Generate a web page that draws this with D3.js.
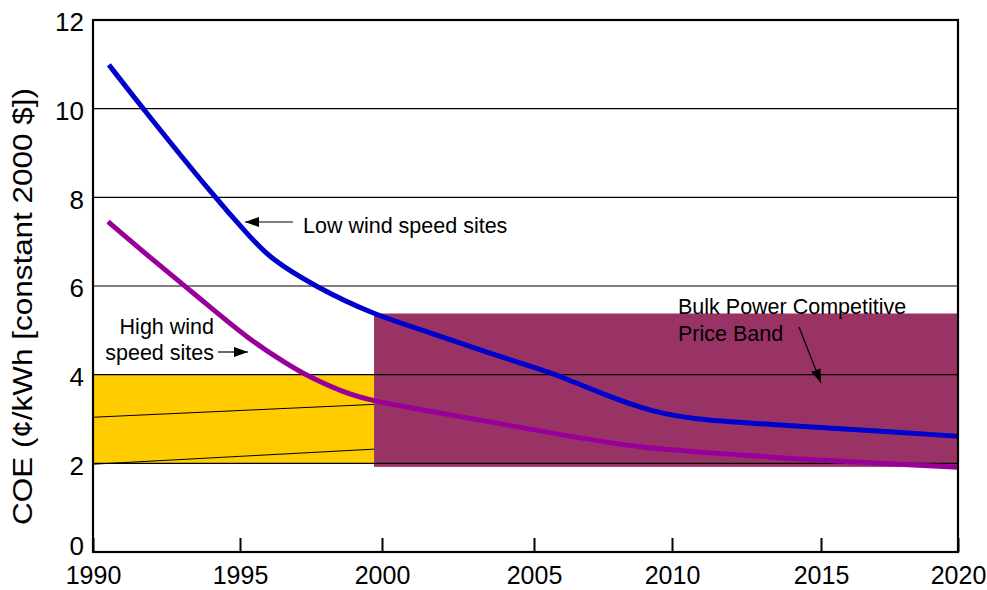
<!DOCTYPE html>
<html>
<head>
<meta charset="utf-8">
<script src="https://cdn.jsdelivr.net/npm/d3@7"></script>
<style>
  html, body { margin: 0; padding: 0; background: #fff; }
  svg { display: block; font-family: "Liberation Sans", Arial, sans-serif; }
</style>
</head>
<body>
<svg id="chart" width="987" height="590"></svg>
<script>
// ---- Data ----
const xTickYears = [1990, 1995, 2000, 2005, 2010, 2015, 2020];
const yTickValues = [0, 2, 4, 6, 8, 10, 12];
const gridValues = [2, 4, 6, 8, 10];

const lowWindYears = [1990.54, 1991.70, 1994.15, 1995.35, 1996.06, 1997.64, 1999.68, 2001.58, 2003.45, 2005.33, 2006.05, 2007.5, 2009.31, 2010.94, 2014.3, 2017.88, 2020];
const lowWindCOE   = [10.99, 10.0, 7.99, 7.11, 6.62, 5.99, 5.36, 4.95, 4.50, 4.10, 3.94, 3.56, 3.15, 2.97, 2.84, 2.70, 2.61];

const highWindYears = [1990.51, 1991.94, 1993.64, 1995.25, 1996.76, 1997.36, 1998.63, 1999.72, 2001.25, 2003.98, 2006.30, 2008.73, 2010.94, 2014.3, 2017.88, 2020];
const highWindCOE   = [7.45, 6.64, 5.72, 4.82, 4.20, 3.98, 3.60, 3.40, 3.22, 2.88, 2.61, 2.36, 2.25, 2.09, 1.98, 1.91];

// Price bands: [startYear, endYear, low, high]
const highWindBand = [1990, 1999.72, 2, 4];
const bulkPowerBand = [1999.72, 2020, 1.92, 5.38];
// thin lines inside the high wind band: [y at start, y at end]
const bandInnerLines = [[3.04, 3.33], [1.98, 2.32]];

// ---- Scales ----
const svg = d3.select("#chart");
const x = d3.scaleLinear().domain(xTickYears).range([93, 240, 382, 534, 672, 821, 958]);
const y = d3.scaleLinear().domain([0, 12]).range([552, 20]);
const X0 = x(1990), X1 = x(2020), Y0 = y(0), Y1 = y(12);

// defs for arrowheads
const defs = svg.append("defs");
defs.append("marker")
  .attr("id", "arrow")
  .attr("markerUnits", "userSpaceOnUse")
  .attr("viewBox", "0 0 14 10")
  .attr("refX", 14).attr("refY", 5)
  .attr("markerWidth", 14).attr("markerHeight", 10)
  .attr("orient", "auto")
  .append("path").attr("d", "M0,0 L14,5 L0,10 Z").attr("fill", "#000");

// ---- Bands ----
svg.append("rect")
  .attr("x", x(highWindBand[0])).attr("y", y(highWindBand[3]))
  .attr("width", x(highWindBand[1]) - x(highWindBand[0]))
  .attr("height", y(highWindBand[2]) - y(highWindBand[3]))
  .attr("fill", "#FFCC00");

svg.selectAll("line.inner").data(bandInnerLines).enter().append("line")
  .attr("x1", x(highWindBand[0])).attr("x2", x(highWindBand[1]))
  .attr("y1", d => y(d[0])).attr("y2", d => y(d[1]))
  .attr("stroke", "#000").attr("stroke-width", 1);

svg.append("rect")
  .attr("x", x(bulkPowerBand[0])).attr("y", y(bulkPowerBand[3]))
  .attr("width", x(bulkPowerBand[1]) - x(bulkPowerBand[0]))
  .attr("height", y(bulkPowerBand[2]) - y(bulkPowerBand[3]))
  .attr("fill", "#993366");

// ---- Gridlines ----
svg.selectAll("line.grid").data(gridValues).enter().append("line")
  .attr("x1", X0).attr("x2", X1)
  .attr("y1", d => y(d)).attr("y2", d => y(d))
  .attr("stroke", "#000").attr("stroke-width", 1.2);

// ---- Curves ----
const line = d3.line().x(d => x(d[0])).y(d => y(d[1])).curve(d3.curveBasis);
svg.append("path")
  .attr("d", line(highWindYears.map((v, i) => [v, highWindCOE[i]])))
  .attr("fill", "none").attr("stroke", "#990099").attr("stroke-width", 5);
svg.append("path")
  .attr("d", line(lowWindYears.map((v, i) => [v, lowWindCOE[i]])))
  .attr("fill", "none").attr("stroke", "#0000CC").attr("stroke-width", 5);

// ---- Frame ----
svg.append("rect")
  .attr("x", X0).attr("y", Y1).attr("width", X1 - X0).attr("height", Y0 - Y1)
  .attr("fill", "none").attr("stroke", "#000").attr("stroke-width", 2.2);

// ---- X axis (ticks inward) ----
const xAxis = d3.axisBottom(x).tickValues(xTickYears).tickFormat(d3.format("d"))
  .tickSizeInner(-14).tickSizeOuter(0).tickPadding(0);
const gx = svg.append("g").attr("transform", `translate(0,${Y0})`).call(xAxis);
gx.select(".domain").remove();
gx.selectAll(".tick line").attr("stroke", "#000").attr("stroke-width", 2);
gx.selectAll(".tick text").attr("font-size", 25).attr("fill", "#000")
  .attr("y", 0).attr("dy", 0).attr("transform", "translate(0,32)");

// ---- Y axis labels ----
const yAxis = d3.axisLeft(y).tickValues(yTickValues).tickFormat(d3.format("d"))
  .tickSize(0).tickPadding(9);
const gy = svg.append("g").attr("transform", `translate(${X0},0)`).call(yAxis);
gy.select(".domain").remove();
gy.selectAll(".tick text").attr("font-size", 26).attr("fill", "#000")
  .attr("dy", d => d === 0 ? "0.1em" : "0.42em");

// ---- Y title ----
svg.append("text")
  .attr("transform", "translate(32,306.5) rotate(-90)")
  .attr("text-anchor", "middle")
  .attr("font-size", 27)
  .attr("textLength", 437).attr("lengthAdjust", "spacingAndGlyphs")
  .text("COE (¢/kWh [constant 2000 $])");

// ---- Annotations ----
const ann = svg.append("g").attr("font-size", 21.5).attr("fill", "#000");
ann.append("text").attr("x", 303).attr("y", 233).text("Low wind speed sites");
svg.append("line").attr("x1", 293).attr("y1", 222).attr("x2", 245).attr("y2", 222)
  .attr("stroke", "#000").attr("stroke-width", 1.2).attr("marker-end", "url(#arrow)");

ann.append("text").attr("x", 214).attr("y", 334).attr("text-anchor", "end").text("High wind");
ann.append("text").attr("x", 214).attr("y", 360).attr("text-anchor", "end").text("speed sites");
svg.append("line").attr("x1", 218).attr("y1", 352).attr("x2", 248).attr("y2", 352)
  .attr("stroke", "#000").attr("stroke-width", 1.2).attr("marker-end", "url(#arrow)");

ann.append("text").attr("x", 678).attr("y", 314).text("Bulk Power Competitive");
ann.append("text").attr("x", 678).attr("y", 341).text("Price Band");
svg.append("line").attr("x1", 799).attr("y1", 327).attr("x2", 821).attr("y2", 383)
  .attr("stroke", "#000").attr("stroke-width", 1.2).attr("marker-end", "url(#arrow)");
</script>
</body>
</html>
